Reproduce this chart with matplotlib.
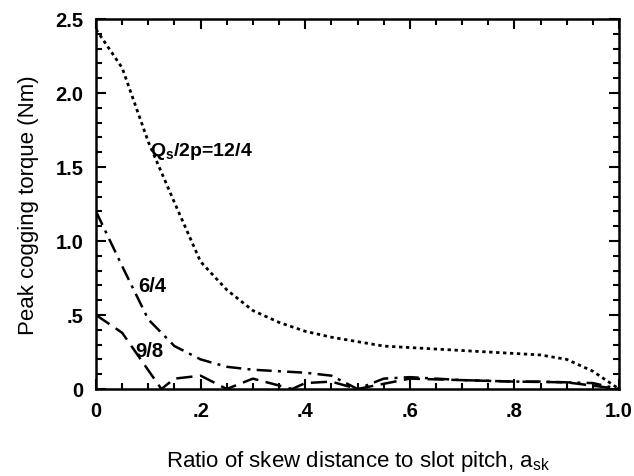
import matplotlib
matplotlib.use('Agg')
import matplotlib.pyplot as plt
from matplotlib.ticker import MultipleLocator, FixedLocator, FixedFormatter

plt.rcParams['font.family'] = ['Liberation Sans', 'DejaVu Sans']
plt.rcParams['mathtext.fontset'] = 'custom'
plt.rcParams['mathtext.rm'] = 'Liberation Sans'
plt.rcParams['mathtext.it'] = 'Liberation Sans'
plt.rcParams['mathtext.bf'] = 'Liberation Sans:bold'

# Q/2p = 12/4
x_124 = [0, 0.05, 0.1, 0.15, 0.2, 0.25, 0.3, 0.35, 0.4, 0.45, 0.5, 0.55, 0.6, 0.65,
         0.7, 0.75, 0.8, 0.85, 0.9, 0.95, 1.0]
y_124 = [2.43, 2.17, 1.67, 1.26, 0.86, 0.67, 0.53, 0.45, 0.39, 0.35, 0.32, 0.29, 0.28,
         0.27, 0.26, 0.25, 0.24, 0.23, 0.2, 0.12, 0.0]

# 6/4
x_64 = [0, 0.05, 0.1, 0.15, 0.2, 0.25, 0.3, 0.35, 0.4, 0.45, 0.5, 0.55, 0.6, 0.65,
        0.7, 0.75, 0.8, 0.85, 0.9, 0.95, 1.0]
y_64 = [1.2, 0.83, 0.47, 0.29, 0.2, 0.15, 0.13, 0.12, 0.11, 0.09, 0.0, 0.07, 0.08,
        0.07, 0.06, 0.055, 0.05, 0.05, 0.045, 0.04, 0.0]

# 9/8
x_98 = [0, 0.05, 0.125, 0.15, 0.2, 0.25, 0.3, 0.375, 0.4, 0.45, 0.5, 0.6, 0.7, 0.8,
        0.9, 1.0]
y_98 = [0.5, 0.38, 0.0, 0.07, 0.09, 0.0, 0.07, 0.0, 0.04, 0.05, 0.0, 0.07, 0.06,
        0.05, 0.045, 0.0]

xticks = [0, 0.2, 0.4, 0.6, 0.8, 1.0]
xticklabels = ['0', '.2', '.4', '.6', '.8', '1.0']
yticks = [0, 0.5, 1.0, 1.5, 2.0, 2.5]
yticklabels = ['0', '.5', '1.0', '1.5', '2.0', '2.5']

fig = plt.figure(figsize=(6.34, 4.77), dpi=100)
ax = fig.add_axes([0.1514, 0.1824, 0.825, 0.7757])

ax.plot(x_124, y_124, color='black', lw=2.0, linestyle=(0, (1.2, 1.3)))
ax.plot(x_64, y_64, color='black', lw=1.8, linestyle=(0, (6, 2.5, 1.2, 2.5)))
ax.plot(x_98, y_98, color='black', lw=1.8, linestyle=(0, (6.5, 3)))

ax.text(0.103, 1.61, r'Q$_\mathbf{s}$/2p=12/4', fontsize=14, fontweight='bold',
        va='center', ha='left')
ax.text(0.08, 0.70, '6/4', fontsize=14.5, fontweight='bold', va='center', ha='left')
ax.text(0.075, 0.26, '9/8', fontsize=14.5, fontweight='bold', va='center', ha='left')

ax.set_xlim(0, 1.0)
ax.set_ylim(0, 2.5)
ax.xaxis.set_major_locator(FixedLocator(xticks))
ax.xaxis.set_major_formatter(FixedFormatter(xticklabels))
ax.yaxis.set_major_locator(FixedLocator(yticks))
ax.yaxis.set_major_formatter(FixedFormatter(yticklabels))
ax.xaxis.set_minor_locator(MultipleLocator(0.05))
ax.yaxis.set_minor_locator(MultipleLocator(0.1))
ax.tick_params(which='both', direction='in', top=True, right=True, width=1.5,
               labelsize=14.5, pad=9)
ax.tick_params(which='major', length=7)
ax.tick_params(which='minor', length=4)
for lab in ax.get_xticklabels() + ax.get_yticklabels():
    lab.set_fontweight('bold')
for sp in ax.spines.values():
    sp.set_linewidth(1.8)

ax.set_xlabel(r'Ratio of skew distance to slot pitch, a$_\mathrm{sk}$', fontsize=16,
              labelpad=20)
ax.set_ylabel('Peak cogging torque (Nm)', fontsize=16, labelpad=12)

fig.savefig('out.png', dpi=100)
